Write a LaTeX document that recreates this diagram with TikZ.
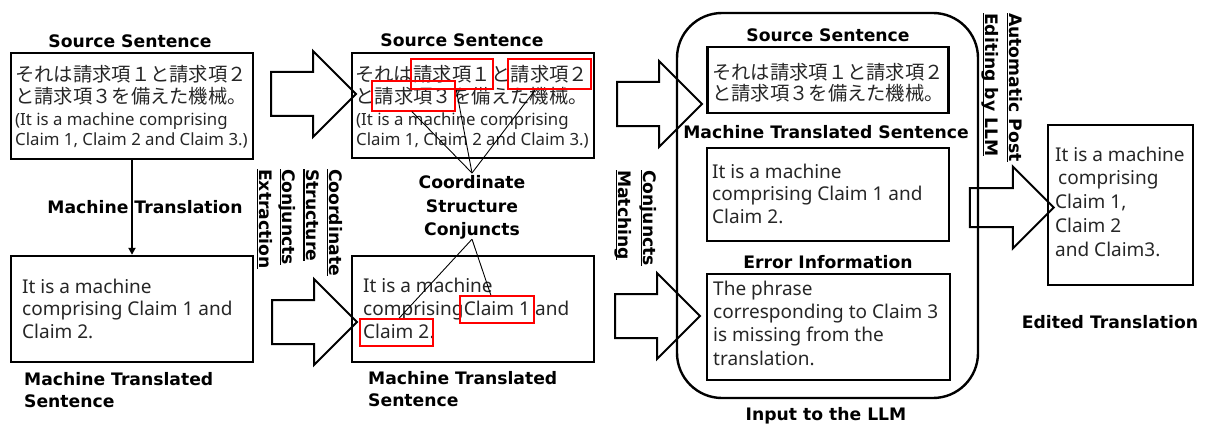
\documentclass[tikz,border=0pt]{standalone}
\usepackage{fontspec}
\setmainfont{Noto Sans}
\newfontfamily\jpfont{Noto Sans CJK JP}
\newfontfamily\headfont{DejaVu Sans}
\usetikzlibrary{shapes.arrows,arrows.meta,fit,calc}

% underline at a fixed depth, so descenders cross it
\newsavebox\lineunderbox
\newcommand\lineunder[1]{\sbox\lineunderbox{#1}\rlap{\rule[-2.6pt]{\wd\lineunderbox}{1.2pt}}\usebox\lineunderbox}
% invisible strut fixing the height of a first line
\newcommand\topstrut[1]{\rule{0pt}{#1pt}}

\tikzset{
  bodyfont/.style={inner sep=0pt, text=black!85, font=\fontsize{19}{22.5}\selectfont},
  body/.style={bodyfont, anchor=north west, align=left},
  jp/.style={inner sep=0pt, text=black!85, font=\jpfont\fontsize{19.3}{21.5}\selectfont},
  small/.style={inner sep=0pt, anchor=north west, align=left, text=black!85, font=\fontsize{16.8}{20}\selectfont},
  head/.style={inner sep=0pt, font=\headfont\bfseries\fontsize{17.2}{23.3}\selectfont},
  vlabel/.style={head, rotate=-90, anchor=north west, align=left},
  frame/.style={draw, line width=2.4pt, inner sep=0pt},
  redbox/.style={draw=red, line width=2pt, inner xsep=2.5pt, inner ysep=5.8pt},
  redboxen/.style={draw=red, line width=2pt, inner xsep=3.5pt, inner ysep=5.8pt, yshift=-1.5pt},
  blockarrow/.style={draw, line width=2pt, single arrow, single arrow tip angle=90,
    single arrow head extend=21pt, inner xsep=0pt, inner ysep=21pt,
    minimum width=0pt, minimum height=85pt},
  link/.style={line width=0.9pt}
}

\begin{document}
\begin{tikzpicture}[x=1pt,y=-1pt]
\useasboundingbox (0,0) rectangle (1206,425);

% ---------- column 1: source and machine translation ----------
\node[head, anchor=base] (hs1) at (130,48) {Source Sentence};
\node[frame, minimum width=242pt, minimum height=106pt] (src1) at (132,106) {};
\node[jp, anchor=north west, align=left] (s1j) at (15,63.5)
  {\topstrut{18}それは請求項１と請求項２\\と請求項３を備えた機械。};
\node[small] (s1e) at (15,111)
  {\topstrut{14}(It is a machine comprising\\Claim 1, Claim 2 and Claim 3.)};

\node[frame, minimum width=242pt, minimum height=106pt] (mt1) at (132,309) {};
\node[body] (m1t) at (22,277.5)
  {\topstrut{15.5}It is a machine\\comprising Claim 1 and\\Claim 2.};
\node[head, anchor=north west, align=left, font=\headfont\bfseries\fontsize{17.2}{22.5}\selectfont] (hm1) at (24,369.5)
  {\topstrut{15.5}Machine Translated\\Sentence};

\draw[line width=1.8pt, -{Triangle[length=7pt,width=7pt]}] (src1.south) -- (mt1.north);
\node[head, anchor=base] (hmt) at (145,213) {Machine Translation};

% ---------- extraction step ----------
\node[blockarrow] (a1) at (302.5,94) {};
\node[blockarrow] (a2) at (303.5,322) {};
\node[vlabel] (cse) at (345,169)
  {\topstrut{15.5}\lineunder{Coordinate}\\\lineunder{Structure}\\\lineunder{Conjuncts}\\\lineunder{Extraction}};

% ---------- column 2: marked conjuncts ----------
\node[head, anchor=base] (hs2) at (462,47) {Source Sentence};
\node[frame, minimum width=242pt, minimum height=105pt] (src2) at (473,105.5) {};
\node[jp, anchor=base west] (j1a) at (355,81.5) {それは};
\node[jp, anchor=base west] (j1b) at (j1a.base east) {請求項１};
\node[jp, anchor=base west] (j1c) at (j1b.base east) {と};
\node[jp, anchor=base west] (j1d) at (j1c.base east) {請求項２};
\node[jp, anchor=base west] (j2a) at (355,103) {と};
\node[jp, anchor=base west] (j2b) at (j2a.base east) {請求項３};
\node[jp, anchor=base west] (j2c) at (j2b.base east) {を備えた機械。};
\node[small] (s2e) at (356,111.5)
  {\topstrut{14}(It is a machine comprising\\Claim 1, Claim 2 and Claim 3.)};
\node[redbox, fit=(j1b)] (r1) {};
\node[redbox, fit=(j1d)] (r2) {};
\node[redbox, fit=(j2b)] (r3) {};

\node[head, anchor=north, align=center] (csc) at (472,173)
  {\topstrut{15.5}Coordinate\\Structure\\Conjuncts};

\node[frame, minimum width=242pt, minimum height=106pt] (mt2) at (473,309) {};
\node[body] (m2a) at (363,276.5) {\topstrut{15.5}It is a machine};
\node[bodyfont, anchor=base west] (m2b) at (363,315) {comprising\ };
\node[bodyfont, anchor=base west] (m2c) at (m2b.base east) {Claim 1};
\node[bodyfont, anchor=base west] (m2d) at (m2c.base east) {\ and};
\node[bodyfont, anchor=base west] (m2e) at (363,338) {Claim 2};
\node[bodyfont, anchor=base west] (m2f) at (m2e.base east) {.};
\node[redboxen, fit=(m2c)] (rc1) {};
\node[redboxen, fit=(m2e)] (rc2) {};
\node[head, anchor=north west, align=left, font=\headfont\bfseries\fontsize{17.2}{22.5}\selectfont] (hm2) at (368,368.5)
  {\topstrut{15.5}Machine Translated\\Sentence};

\draw[link] (csc.north) -- ($(r3.south west)!0.48!(r3.south east)$);
\draw[link] (csc.north) -- ($(r1.south west)!0.55!(r1.south east)$);
\draw[link] (csc.north) -- ($(r2.south west)!0.33!(r2.south east)$);
\draw[link] (csc.south) -- ($(rc2.north west)!0.54!(rc2.north east)$);
\draw[link] (csc.south) -- ($(rc1.north west)!0.42!(rc1.north east)$);

% ---------- matching step ----------
\node[blockarrow] (a3) at (648.5,104) {};
\node[blockarrow] (a4) at (646.5,316) {};
\node[vlabel, font=\headfont\bfseries\fontsize{17.2}{25}\selectfont] (cmt) at (659,170)
  {\topstrut{15.5}\lineunder{Conjuncts}\\\lineunder{Matching}};

% ---------- LLM input ----------
\node[draw, line width=2.4pt, rounded corners=45pt, minimum width=301pt, minimum height=385pt] (llm) at (827.5,205.5) {};
\node[head, anchor=base] (hs3) at (828,41.5) {Source Sentence};
\node[frame, minimum width=241pt, minimum height=66pt] (src3) at (828,80) {};
\node[jp, anchor=north west, align=left] (s3j) at (712,61)
  {\topstrut{18}それは請求項１と請求項２\\と請求項３を備えた機械。};
\node[head, anchor=base] (hm3) at (826,138) {Machine Translated Sentence};
\node[frame, minimum width=242pt, minimum height=93pt] (mt3) at (828,194.5) {};
\node[body] (m3t) at (712,162.5)
  {\topstrut{15.5}It is a machine\\comprising Claim 1 and\\Claim 2.};
\node[head, anchor=base] (he) at (828,268) {Error Information};
\node[frame, minimum width=243pt, minimum height=106pt] (err) at (828.5,327) {};
\node[body, font=\fontsize{19}{23.3}\selectfont] (et) at (713,279.5)
  {\topstrut{15.5}The phrase\\corresponding to Claim 3\\is missing from the\\translation.};
\node[head, anchor=base] (hin) at (826,420) {Input to the LLM};

% ---------- post editing ----------
\node[blockarrow, inner ysep=18.5pt, single arrow head extend=21.5pt, minimum height=84pt] (a5) at (1002,207.5) {};
\node[vlabel, font=\headfont\bfseries\fontsize{17.2}{24}\selectfont] (ape) at (1025,13)
  {\topstrut{15.5}\lineunder{Automatic Post}\\\lineunder{Editing by LLM}};

\node[frame, minimum width=145pt, minimum height=160pt] (edit) at (1120.5,205) {};
\node[body, font=\fontsize{19}{23.7}\selectfont] (edt) at (1055,145.5)
  {\topstrut{15.5}It is a machine\\\hspace{3pt}comprising\\Claim 1,\\Claim 2\\and Claim3.};
\node[head, anchor=base] (hed) at (1110,328) {Edited Translation};

\end{tikzpicture}
\end{document}
